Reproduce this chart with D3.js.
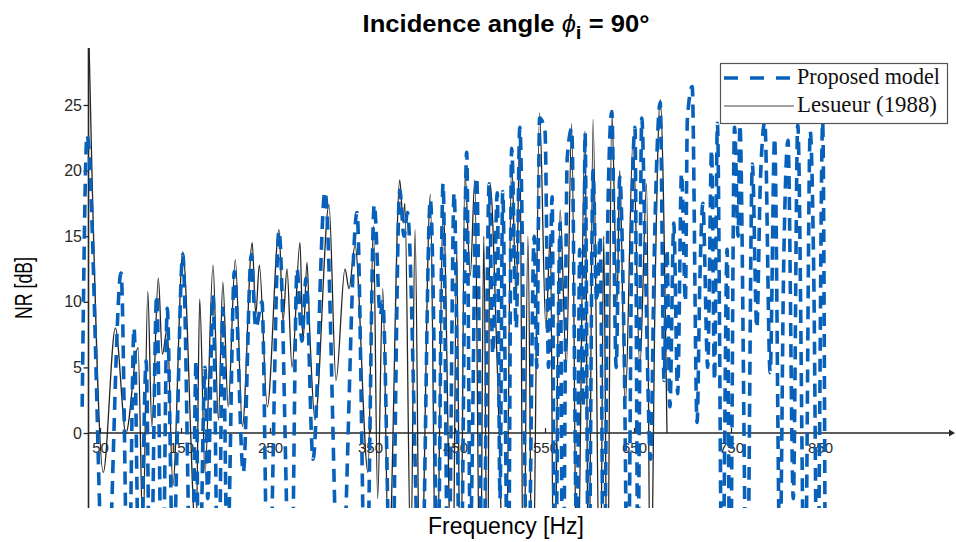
<!DOCTYPE html>
<html><head><meta charset="utf-8">
<script src="https://cdn.jsdelivr.net/npm/d3@7"></script>
<style>body{margin:0;background:#fff}svg{display:block}</style>
</head><body>
<svg id="c" width="956" height="542"></svg>
<script>
// ---- data ----
const xTickValues = [50,150,250,350,450,550,650,750,850];
const yTickValues = [0,5,10,15,20,25];
const legendLabels = ["Proposed model","Lesueur (1988)"];

const proposedFreq = [28,34,57,76,85,92,99,107,112,120,127,133,140,152,162,167,170,177,180,186,192,197,202,210,220,229,234,241,248,259,271,277,282,286,293,305,320,337,346,355,362,365,375,385,390,394,
410,421,425,429,436,442,449,456,463,467,474,481,488,492,497,500,503,509,513,518,522,531,538,541,544,550,554,558,561,567,570,575,580,586,589,593,595,599,604,608,612,616,621,625,630,634,639,643,648,651,654,658,662,667,671,677,681,684,687,691,695,699,703,705,710,715,718,721,726,730,733,736,741,
746,749,754,758,760,768,774,779,783,788,794,799,805,809,814,820,825,833,839,843,847,853,856];
const proposedNR = [2,22.7,-15,12.2,-15,8,-15,5.5,-15,10.5,-15,9.5,-10,13.6,-15,5.5,-15,5,-5,10.5,-15,9.5,-10,12.3,-3,13.6,8,10,-15,15.4,-15,12.5,7,11.8,-2,18.4,-15,16.8,-15,17.4,9,10,-15,18.5,15,16.8,
-15,17.8,8,-15,19,-15,18.3,-15,21.4,-8,19.5,-15,19,6,18.3,-5,18.4,-15,21.7,8,23.3,-15,15,5,24,23,5,18,-15,16,-15,21,23.2,-10,14,2,22.9,-15,20,10,15,-15,18,24.5,5,19.5,6,-15,18,23.3,-10,24,12,-2,14,25.2,4,14,2,16,3,19.8,10,23.9,26.4,0.8,12,17.5,5,21.6,4,23.6,-15,
14,-15,23.3,15,23.5,-15,20.5,8,19.2,23.7,4.6,22.5,-10,12,22.3,-5,23.5,-15,23,12,-15,23.7,-15];

const lesueurFreq = [36,40,54,69,82,97,103,109,114,122,127,133,140,152,167,171,177,186,192,197,203,211,219,230,234,238,247,259,263,267,272,280,283,287,290,295,309,316,325,329,335,348,354,359,365,372,385,389,391,398,403,409,421,428,436,447,452,456,461,467,472,478,482,486,489,497,506,513,518,522,526,531,536,544,551,556,560,567,574,580,586,595,599,604,612,616,620,625,631,634,640,649,656,663,667,672,677,684];
const lesueurNR = [31,20,-3,8,0,6.5,-8,10.8,0.5,11.8,6,8,-4,13.8,-8,10.2,-3,12.8,1,11.5,2,13.2,0.5,14.5,9,12.8,2,15.5,8.5,12.5,5,14.5,7,13,7.2,1,17.4,4,12.5,11,14.3,-3,15.8,-5,11,-10,19.3,16,17.5,-10,15.5,-15,18.2,-15,17.3,-15,14,-15,19.8,12,19.3,-15,15,-15,19,5,-15,20.7,10,22.9,-15,15,-15,24.4,8,15,-15,17,5,23.6,-15,23,-15,23.9,-15,15,-15,24.5,10,20,2,22.4,5,19,-15,12,25.4,0];

// ---- layout ----
const svg = d3.select("#c");
// scanned axis is slightly non-uniform: piecewise linear scale through its labelled ticks
const x = d3.scaleLinear().domain(xTickValues).range([100,181,270,370,455,545,634,731,820]);
const y = d3.scaleLinear().domain([0,25]).range([433,105]);
const axX = 88.5, topY = 48, botY = 508, rightX = 955;
const BLUE = "#0760ba", INK = "#262626";

svg.append("defs").append("clipPath").attr("id","clip")
  .append("rect").attr("x",60).attr("y",topY).attr("width",rightX-60).attr("height",botY-topY);

// scanned axes
const scan = svg.append("g").attr("fill",INK).attr("stroke",INK);
scan.append("line").attr("x1",axX).attr("x2",axX).attr("y1",topY).attr("y2",botY).attr("stroke-width",1.6);
scan.append("line").attr("x1",axX).attr("x2",rightX-4).attr("y1",y(0)).attr("y2",y(0)).attr("stroke-width",1.4);
scan.append("path").attr("d",`M${rightX},${y(0)} l-6,-3.5 l0,7 z`).attr("stroke","none");

const gy = svg.append("g").attr("transform",`translate(${axX},0)`)
  .call(d3.axisLeft(y).tickValues(yTickValues).tickSize(5).tickPadding(1.5));
gy.select(".domain").remove();
gy.selectAll("line").attr("stroke",INK).attr("stroke-width",1.3);
gy.selectAll("text").attr("font-family","Liberation Sans, Arial, sans-serif").attr("font-size",16).attr("fill","#2a2a2a");

const gx = svg.append("g").attr("transform",`translate(0,${y(0)})`)
  .call(d3.axisBottom(x).tickValues(xTickValues).tickSizeInner(-5).tickSizeOuter(0).tickPadding(9));
gx.select(".domain").remove();
gx.selectAll("line").attr("stroke",INK).attr("stroke-width",1.2);
gx.selectAll("text").attr("font-family","Liberation Sans, Arial, sans-serif").attr("font-size",15).attr("fill","#2a2a2a");

// curves
const line = d3.line().x(d=>x(d[0])).y(d=>y(d[1])).curve(d3.curveMonotoneX);
const plot = svg.append("g").attr("clip-path","url(#clip)");
plot.append("path").datum(lesueurFreq.map((f,i)=>[f,lesueurNR[i]]))
  .attr("d",line).attr("fill","none").attr("stroke",INK).attr("stroke-width",1.3);
plot.append("path").datum(proposedFreq.map((f,i)=>[f,proposedNR[i]]))
  .attr("d",line).attr("fill","none").attr("stroke",BLUE).attr("stroke-width",3.6)
  .attr("stroke-dasharray","13,8");

// legend
const lg = svg.append("g");
lg.append("rect").attr("x",720.5).attr("y",63.5).attr("width",227).attr("height",60)
  .attr("fill","#fff").attr("stroke","#555").attr("stroke-width",1.2);
lg.append("line").attr("x1",724).attr("x2",794).attr("y1",78).attr("y2",78)
  .attr("stroke",BLUE).attr("stroke-width",3.6).attr("stroke-dasharray","14,12");
lg.append("line").attr("x1",724).attr("x2",794).attr("y1",106).attr("y2",106)
  .attr("stroke","#444").attr("stroke-width",1.2);
function fit(sel, w){ const cw = sel.node().getComputedTextLength(); sel.attr("font-size", parseFloat(sel.attr("font-size"))*w/cw); }
legendLabels.forEach((t,i)=>{
  const tx = lg.append("text").attr("x",797).attr("y",84+i*28).text(t)
    .attr("font-family","Liberation Serif, Times New Roman, serif").attr("font-size",18).attr("fill","#111");
  fit(tx, i===0?143:140);
});

// narrow (Helvetica-Narrow-like) texts: fixed height, squeezed horizontally to the measured width
function narrow(g, w){ const t = g.select("text"); const cw = t.node().getComputedTextLength(); t.attr("transform",`scale(${w/cw},1)`); }
const tg = svg.append("g").attr("transform","translate(506,32)");
const title = tg.append("text").attr("text-anchor","middle")
  .attr("font-family","Liberation Sans, Arial, sans-serif").attr("font-size",24).attr("font-weight","bold").attr("fill","#000");
title.append("tspan").text("Incidence angle ");
title.append("tspan").text("\u03D5").attr("font-style","italic").attr("font-weight","normal");
title.append("tspan").text("i").attr("dy",7).attr("font-size","0.8em");
title.append("tspan").text(" = 90°").attr("dy",-7);
narrow(tg, 287);

const xg = svg.append("g").attr("transform","translate(506,534)");
xg.append("text").attr("text-anchor","middle").attr("font-family","Liberation Sans, Arial, sans-serif")
  .attr("font-size",24).attr("fill","#000").text("Frequency [Hz]");
narrow(xg,156);
const yg = svg.append("g").attr("transform","translate(32,288) rotate(-90)");
yg.append("text").attr("text-anchor","middle").attr("font-family","Liberation Sans, Arial, sans-serif")
  .attr("font-size",24).attr("fill","#000").text("NR [dB]");
narrow(yg,62);
</script>
</body></html>
